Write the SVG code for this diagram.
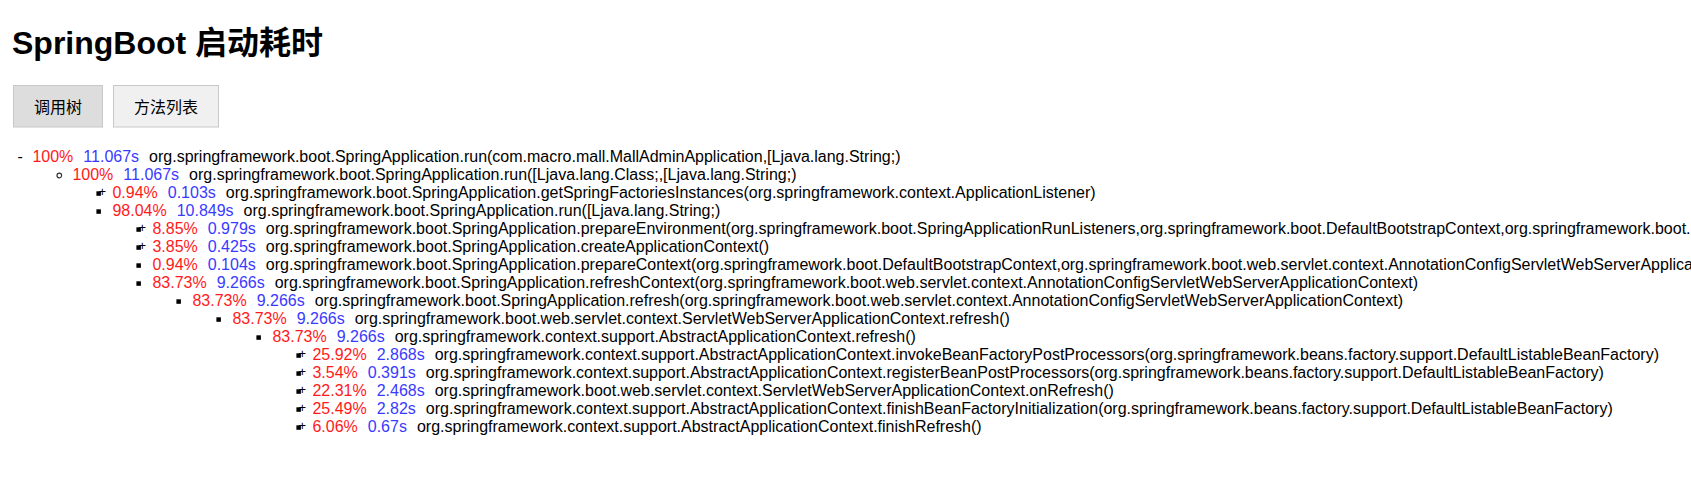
<svg xmlns="http://www.w3.org/2000/svg" width="1691" height="498" viewBox="0 0 1691 498">
<style>
.t{font-family:"Liberation Sans",Arial,"Noto Sans CJK SC",sans-serif;font-size:16px;fill:#000;}
.pct{fill:#ff1a1a;}
.tm{fill:#3a3aff;}
.title{font-family:"Liberation Sans",Arial,"Noto Sans CJK SC",sans-serif;font-size:32px;font-weight:bold;fill:#000;}
.btn{font-family:"Noto Sans CJK SC","Liberation Sans",sans-serif;font-size:16px;fill:#000;text-anchor:middle;}
.sq{fill:#000;}
.plus{font-family:"Liberation Sans",Arial,sans-serif;font-size:13px;fill:#000;text-anchor:middle;}
.circ{fill:none;stroke:#333;stroke-width:1.2;}
</style>
<rect x="0" y="0" width="1691" height="498" fill="#fff"/>
<g id="title"><text class="title" x="12" y="53.5">SpringBoot 启动耗时</text></g>
<g id="btn-tree"><rect x="13.5" y="85.5" width="89" height="41.5" fill="#dddddd" stroke="#c8c8c8" stroke-width="1"/><text class="btn" x="58" y="113">调用树</text></g>
<g id="btn-list"><rect x="113.5" y="85.5" width="105" height="41.5" fill="#f0f0f0" stroke="#c8c8c8" stroke-width="1"/><text class="btn" x="166" y="113">方法列表</text></g>
<g id="connectors"></g>
<g id="tree">
<g id="row-1" transform="translate(32.4,161.8)"><text class="t" x="-14.8" y="0">-</text><text class="t" x="0" y="0"><tspan class="pct">100%</tspan><tspan class="tm" dx="10">11.067s</tspan><tspan dx="10">org.springframework.boot.SpringApplication.run(com.macro.mall.MallAdminApplication,[Ljava.lang.String;)</tspan></text></g>
<g id="row-2" transform="translate(72.4,179.8)"><circle class="circ" cx="-13.1" cy="-4.3" r="2.3"/><text class="t" x="0" y="0"><tspan class="pct">100%</tspan><tspan class="tm" dx="10">11.067s</tspan><tspan dx="10">org.springframework.boot.SpringApplication.run([Ljava.lang.Class;,[Ljava.lang.String;)</tspan></text></g>
<g id="row-3" transform="translate(112.4,197.8)"><text class="plus" x="-10.1" y="-1.4">+</text><rect class="sq" x="-16" y="-6.5" width="4.5" height="4.5"/><text class="t" x="0" y="0"><tspan class="pct">0.94%</tspan><tspan class="tm" dx="10">0.103s</tspan><tspan dx="10">org.springframework.boot.SpringApplication.getSpringFactoriesInstances(org.springframework.context.ApplicationListener)</tspan></text></g>
<g id="row-4" transform="translate(112.4,215.8)"><rect class="sq" x="-16" y="-6.5" width="4.5" height="4.5"/><text class="t" x="0" y="0"><tspan class="pct">98.04%</tspan><tspan class="tm" dx="10">10.849s</tspan><tspan dx="10">org.springframework.boot.SpringApplication.run([Ljava.lang.String;)</tspan></text></g>
<g id="row-5" transform="translate(152.4,233.8)"><text class="plus" x="-10.1" y="-1.4">+</text><rect class="sq" x="-16" y="-6.5" width="4.5" height="4.5"/><text class="t" x="0" y="0"><tspan class="pct">8.85%</tspan><tspan class="tm" dx="10">0.979s</tspan><tspan dx="10">org.springframework.boot.SpringApplication.prepareEnvironment(org.springframework.boot.SpringApplicationRunListeners,org.springframework.boot.DefaultBootstrapContext,org.springframework.boot.</tspan></text></g>
<g id="row-6" transform="translate(152.4,251.8)"><text class="plus" x="-10.1" y="-1.4">+</text><rect class="sq" x="-16" y="-6.5" width="4.5" height="4.5"/><text class="t" x="0" y="0"><tspan class="pct">3.85%</tspan><tspan class="tm" dx="10">0.425s</tspan><tspan dx="10">org.springframework.boot.SpringApplication.createApplicationContext()</tspan></text></g>
<g id="row-7" transform="translate(152.4,269.8)"><rect class="sq" x="-16" y="-6.5" width="4.5" height="4.5"/><text class="t" x="0" y="0"><tspan class="pct">0.94%</tspan><tspan class="tm" dx="10">0.104s</tspan><tspan dx="10">org.springframework.boot.SpringApplication.prepareContext(org.springframework.boot.DefaultBootstrapContext,org.springframework.boot.web.servlet.context.AnnotationConfigServletWebServerApplica</tspan></text></g>
<g id="row-8" transform="translate(152.4,287.8)"><rect class="sq" x="-16" y="-6.5" width="4.5" height="4.5"/><text class="t" x="0" y="0"><tspan class="pct">83.73%</tspan><tspan class="tm" dx="10">9.266s</tspan><tspan dx="10">org.springframework.boot.SpringApplication.refreshContext(org.springframework.boot.web.servlet.context.AnnotationConfigServletWebServerApplicationContext)</tspan></text></g>
<g id="row-9" transform="translate(192.4,305.8)"><rect class="sq" x="-16" y="-6.5" width="4.5" height="4.5"/><text class="t" x="0" y="0"><tspan class="pct">83.73%</tspan><tspan class="tm" dx="10">9.266s</tspan><tspan dx="10">org.springframework.boot.SpringApplication.refresh(org.springframework.boot.web.servlet.context.AnnotationConfigServletWebServerApplicationContext)</tspan></text></g>
<g id="row-10" transform="translate(232.4,323.8)"><rect class="sq" x="-16" y="-6.5" width="4.5" height="4.5"/><text class="t" x="0" y="0"><tspan class="pct">83.73%</tspan><tspan class="tm" dx="10">9.266s</tspan><tspan dx="10">org.springframework.boot.web.servlet.context.ServletWebServerApplicationContext.refresh()</tspan></text></g>
<g id="row-11" transform="translate(272.4,341.8)"><rect class="sq" x="-16" y="-6.5" width="4.5" height="4.5"/><text class="t" x="0" y="0"><tspan class="pct">83.73%</tspan><tspan class="tm" dx="10">9.266s</tspan><tspan dx="10">org.springframework.context.support.AbstractApplicationContext.refresh()</tspan></text></g>
<g id="row-12" transform="translate(312.4,359.8)"><text class="plus" x="-10.1" y="-1.4">+</text><rect class="sq" x="-16" y="-6.5" width="4.5" height="4.5"/><text class="t" x="0" y="0"><tspan class="pct">25.92%</tspan><tspan class="tm" dx="10">2.868s</tspan><tspan dx="10">org.springframework.context.support.AbstractApplicationContext.invokeBeanFactoryPostProcessors(org.springframework.beans.factory.support.DefaultListableBeanFactory)</tspan></text></g>
<g id="row-13" transform="translate(312.4,377.8)"><text class="plus" x="-10.1" y="-1.4">+</text><rect class="sq" x="-16" y="-6.5" width="4.5" height="4.5"/><text class="t" x="0" y="0"><tspan class="pct">3.54%</tspan><tspan class="tm" dx="10">0.391s</tspan><tspan dx="10">org.springframework.context.support.AbstractApplicationContext.registerBeanPostProcessors(org.springframework.beans.factory.support.DefaultListableBeanFactory)</tspan></text></g>
<g id="row-14" transform="translate(312.4,395.8)"><text class="plus" x="-10.1" y="-1.4">+</text><rect class="sq" x="-16" y="-6.5" width="4.5" height="4.5"/><text class="t" x="0" y="0"><tspan class="pct">22.31%</tspan><tspan class="tm" dx="10">2.468s</tspan><tspan dx="10">org.springframework.boot.web.servlet.context.ServletWebServerApplicationContext.onRefresh()</tspan></text></g>
<g id="row-15" transform="translate(312.4,413.8)"><text class="plus" x="-10.1" y="-1.4">+</text><rect class="sq" x="-16" y="-6.5" width="4.5" height="4.5"/><text class="t" x="0" y="0"><tspan class="pct">25.49%</tspan><tspan class="tm" dx="10">2.82s</tspan><tspan dx="10">org.springframework.context.support.AbstractApplicationContext.finishBeanFactoryInitialization(org.springframework.beans.factory.support.DefaultListableBeanFactory)</tspan></text></g>
<g id="row-16" transform="translate(312.4,431.8)"><text class="plus" x="-10.1" y="-1.4">+</text><rect class="sq" x="-16" y="-6.5" width="4.5" height="4.5"/><text class="t" x="0" y="0"><tspan class="pct">6.06%</tspan><tspan class="tm" dx="10">0.67s</tspan><tspan dx="10">org.springframework.context.support.AbstractApplicationContext.finishRefresh()</tspan></text></g>
</g>
</svg>
